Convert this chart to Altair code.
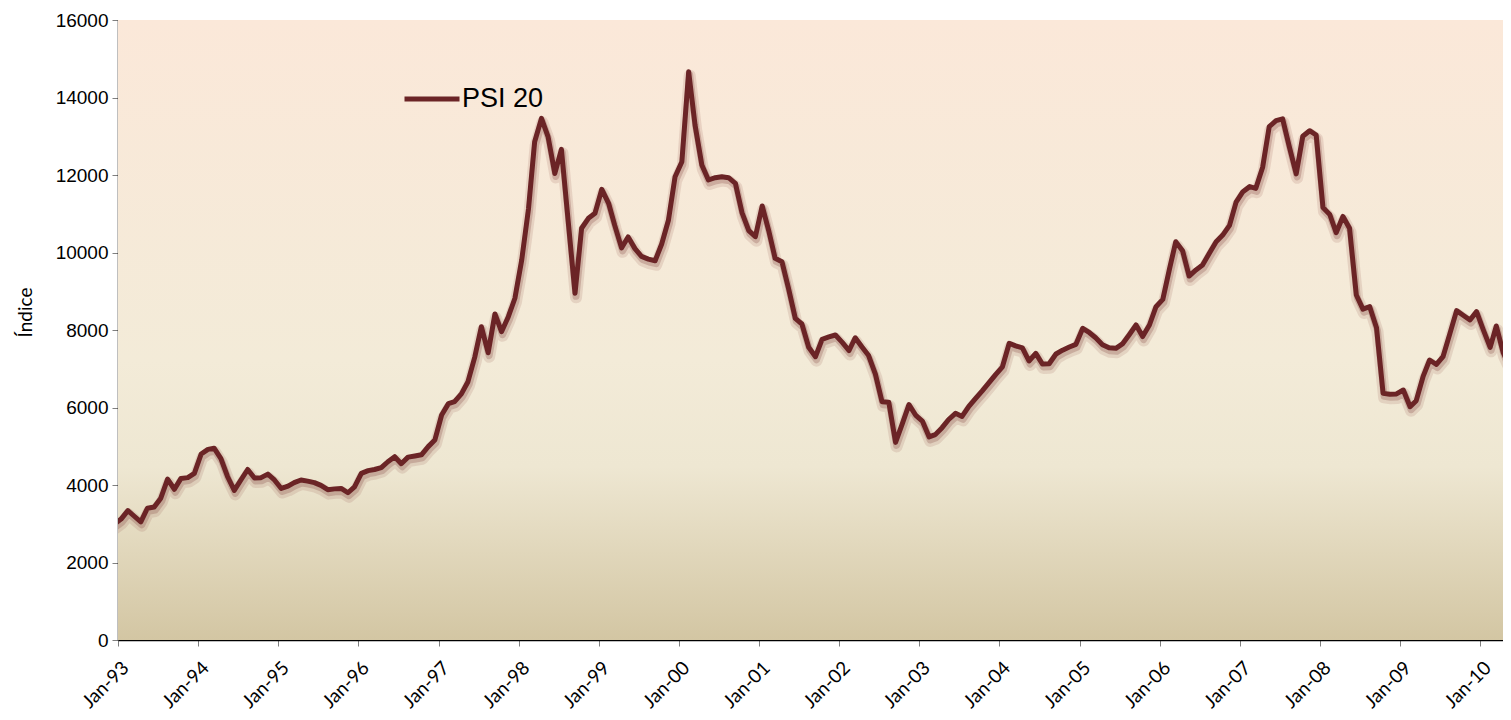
import altair as alt
import pandas as pd

# Monthly PSI 20 values (Dec-92 .. May-10)
psi20 = [
    2990,
    3120, 3340, 3200, 3050, 3400, 3430, 3660, 4150, 3890, 4170, 4190, 4300,   # 1993
    4800, 4920, 4950, 4680, 4220, 3860, 4130, 4400, 4180, 4190, 4280, 4130,   # 1994
    3910, 3970, 4060, 4130, 4100, 4060, 3990, 3880, 3900, 3910, 3800, 3950,   # 1995
    4300, 4370, 4400, 4450, 4600, 4730, 4550, 4720, 4750, 4780, 4990, 5160,   # 1996
    5806, 6100, 6150, 6350, 6666, 7300, 8085, 7414, 8413, 7956, 8343, 8820,   # 1997
    9806, 11130, 12860, 13460, 12990, 12040, 12661, 10800, 8947, 10625, 10883, 11012,  # 1998
    11631, 11270, 10700, 10120, 10400, 10100, 9900, 9830, 9788, 10219, 10839, 11957,  # 1999
    12344, 14666, 13290, 12258, 11871, 11930, 11957, 11931, 11785, 11028, 10564, 10408,  # 2000
    11200, 10537, 9849, 9762, 9075, 8300, 8155, 7553, 7311, 7760, 7820, 7871,  # 2001
    7680, 7470, 7800, 7560, 7340, 6860, 6150, 6137, 5100, 5570, 6075, 5806,   # 2002
    5650, 5240, 5300, 5480, 5690, 5849, 5770, 6030, 6237, 6430, 6640, 6850,   # 2003
    7050, 7657, 7590, 7540, 7200, 7398, 7123, 7130, 7380, 7480, 7560, 7630,   # 2004
    8043, 7930, 7800, 7620, 7540, 7528, 7640, 7880, 8129, 7830, 8129, 8602,   # 2005
    8790, 9591, 10278, 10047, 9393, 9550, 9677, 9980, 10278, 10450, 10700, 11300,  # 2006
    11569, 11700, 11656, 12200, 13246, 13401, 13450, 12720, 12030, 13000, 13143, 13032,  # 2007
    11160, 10980, 10510, 10930, 10624, 8903, 8540, 8602, 8060, 6365, 6340, 6350,  # 2008
    6451, 6021, 6176, 6795, 7226, 7110, 7311, 7900, 8499, 8380, 8258, 8473,   # 2009
    8000, 7553, 8103, 7420, 7053,                                             # 2010
]
dates = [d.strftime("%Y-%m-%d") for d in
         pd.date_range("1992-12-15", periods=len(psi20), freq=pd.DateOffset(months=1))]
series_name = "PSI 20"
years = list(range(1993, 2011))
y_ticks = list(range(0, 16001, 2000))

df = pd.DataFrame({"date": dates, "value": psi20, "series": series_name})

W, H = 1385, 620

x_enc = alt.X(
    "date:T",
    scale=alt.Scale(type="utc",
                    domain=[alt.DateTime(year=1993, month=1, date=1, utc=True),
                            alt.DateTime(year=2010, month=4, date=14, hours=12, utc=True)]),
    axis=alt.Axis(
        values=[alt.DateTime(year=y, month=1, date=1, utc=True) for y in years],
        labelExpr="utcFormat(datum.value, '%b-%y')", title=None,
        labelAngle=-45, labelAlign="right", labelBaseline="top",
        labelFont="Lato", labelFontSize=19, labelPadding=12, labelOffset=1,
        tickSize=6, tickColor="#7f7f7f", domainColor="#000000", domainWidth=1.5,
        labelOverlap=False, labelBound=False,
    ),
)
y_enc = alt.Y(
    "value:Q",
    scale=alt.Scale(domain=[0, 16000], nice=False),
    axis=alt.Axis(
        values=y_ticks, format="d", title="Índice",
        labelFont="Liberation Sans", labelFontSize=19, labelPadding=4,
        tickSize=6, tickColor="#7f7f7f", domainColor="#000000", domainWidth=1.5,
        titleFont="Lato", titleFontSize=19, titleFontWeight="normal", titlePadding=20,
        titleY=292,
    ),
)

bg = alt.Chart(alt.Data(values=[{}])).mark_rect(
    fill=alt.LinearGradient(
        gradient="linear", x1=0, x2=0, y1=0, y2=1,
        stops=[alt.GradientStop(color="#FBE8D9", offset=0),
               alt.GradientStop(color="#F3EBD8", offset=0.55),
               alt.GradientStop(color="#EEE7D2", offset=0.72),
               alt.GradientStop(color="#D3C6A3", offset=1)],
    )
).encode(x=alt.value(0), x2=alt.value(W), y=alt.value(0), y2=alt.value(H))

base = alt.Chart(df)
shadow1 = base.mark_line(color="#8a4a45", opacity=0.15, strokeWidth=12, xOffset=1, yOffset=4,
                         clip=True, strokeJoin="round", strokeCap="round").encode(x=x_enc, y=y_enc)
shadow2 = base.mark_line(color="#7a3a36", opacity=0.25, strokeWidth=7, xOffset=1, yOffset=3,
                         clip=True, strokeJoin="round", strokeCap="round").encode(x=x_enc, y=y_enc)
main = base.mark_line(strokeWidth=5, clip=True, strokeJoin="round", strokeCap="round").encode(
    x=x_enc, y=y_enc,
    color=alt.Color("series:N", scale=alt.Scale(range=["#6B2426"]),
                    legend=alt.Legend(title=None, orient="none", legendX=284, legendY=49,
                                      symbolType="stroke", symbolSize=3025, symbolStrokeWidth=5,
                                      labelFont="Liberation Sans", labelFontSize=27,
                                      labelColor="#000000", labelOffset=0, padding=0)),
)

chart = alt.layer(bg, shadow1, shadow2, main).properties(
    width=W, height=H,
    autosize=alt.AutoSizeParams(type="none"),
    padding={"left": 110, "top": 12, "right": 0, "bottom": 72},
    background="#ffffff",
).configure_view(stroke=None).configure_axis(grid=False, labelColor="#000000", titleColor="#000000")

chart.save("out.html", embed_options={"renderer": "svg", "actions": False})
